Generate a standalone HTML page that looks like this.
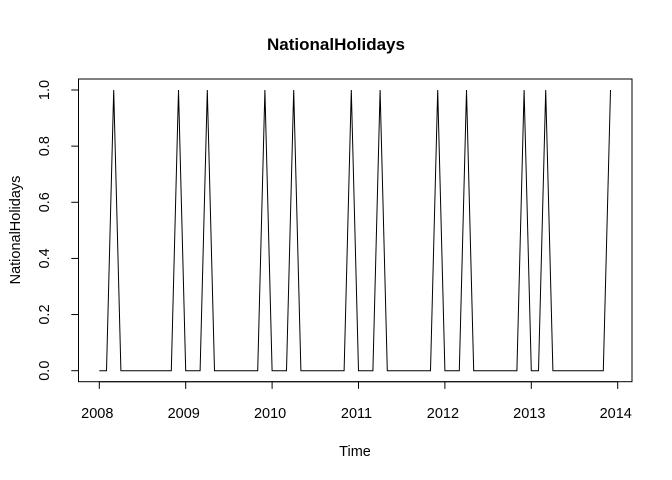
<!DOCTYPE html>
<html><head><meta charset="utf-8"><style>
html,body{margin:0;padding:0;background:#fff;}
svg{display:block;font-family:"Liberation Sans",Arial,sans-serif;}
</style></head><body>
<svg id="chart" width="672" height="480"></svg>
<script>
const startYear = 2008;
const freq = 12;
const values = [0,0,1,0,0,0,0,0,0,0,0,1, 0,0,0,1,0,0,0,0,0,0,0,1, 0,0,0,1,0,0,0,0,0,0,0,1, 0,0,0,1,0,0,0,0,0,0,0,1, 0,0,0,1,0,0,0,0,0,0,0,1, 0,0,1,0,0,0,0,0,0,0,0,1];
const xTicks = [2008,2009,2010,2011,2012,2013,2014];
const yTicks = [0,0.2,0.4,0.6,0.8,1.0];
const yTickLabels = ["0.0","0.2","0.4","0.6","0.8","1.0"];

const NS="http://www.w3.org/2000/svg";
const svg=document.getElementById('chart');
const X=t=>99.3+(t-2008)*86.4;
const Y=v=>370.7-v*280.7;
function el(tag,attrs,txt){const e=document.createElementNS(NS,tag);for(const k in attrs)e.setAttribute(k,attrs[k]);if(txt!==undefined)e.textContent=txt;svg.appendChild(e);return e;}

let t=el('text',{x:336,y:50,'text-anchor':'middle','font-size':17,'font-weight':'bold',fill:'#000'},'NationalHolidays');



let box=el('rect',{x:78.5,y:79,width:553.5,height:302.7,fill:'none',stroke:'#000','stroke-width':1});



let xa=el('line',{x1:X(xTicks[0]),x2:X(xTicks[xTicks.length-1]),y1:381.7,y2:381.7,stroke:'#000'});


xTicks.forEach(v=>{
  const l=el('line',{x1:X(v),x2:X(v),y1:381.7,y2:388.9,stroke:'#000'});
  
  
  const tx=el('text',{x:X(v)-2,y:418,'text-anchor':'middle','font-size':14.5,fill:'#000'},String(v));
  
  
});
let ya=el('line',{x1:78.5,x2:78.5,y1:Y(yTicks[0]),y2:Y(yTicks[yTicks.length-1]),stroke:'#000'});


yTicks.forEach((v,i)=>{
  const l=el('line',{x1:71.3,x2:78.5,y1:Y(v),y2:Y(v),stroke:'#000'});
  
  
  const tx=el('text',{x:0,y:0,'text-anchor':'middle','font-size':14.5,fill:'#000',transform:`translate(49,${Y(v)}) rotate(-90)`},yTickLabels[i]);
  
  
});
let xl=el('text',{x:355,y:456,'text-anchor':'middle','font-size':14.5,fill:'#000'},'Time');


let yl=el('text',{x:0,y:0,'text-anchor':'middle','font-size':14.5,fill:'#000',transform:'translate(20,230) rotate(-90)'},'NationalHolidays');



const pts=values.map((v,i)=>X(startYear+i/freq).toFixed(2)+','+Y(v).toFixed(2)).join(' ');
let line=el('polyline',{points:pts,fill:'none',stroke:'#000','stroke-width':1});


</script>
</body></html>
